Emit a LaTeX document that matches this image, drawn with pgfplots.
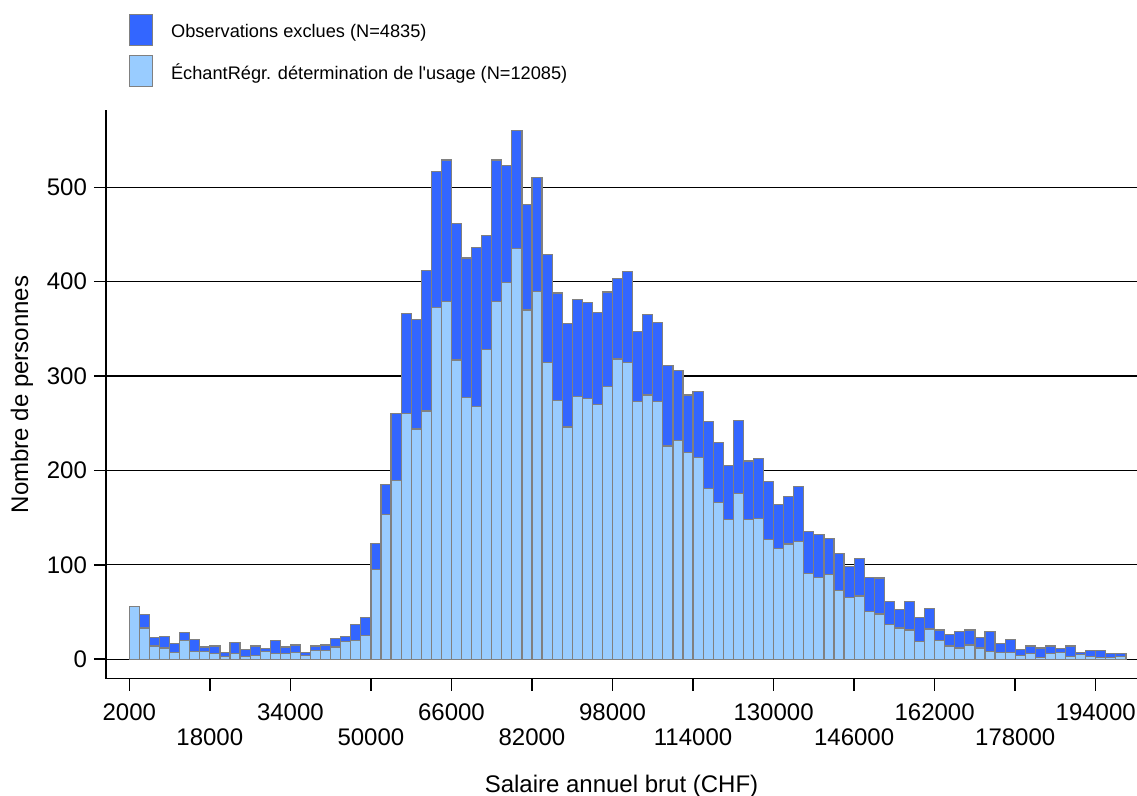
\documentclass[border=0pt]{standalone}
\usepackage{fontspec}
\setmainfont{Liberation Sans}
\usepackage{pgfplots}
\usepackage{pgfplotstable}
\pgfplotsset{compat=1.18}

\definecolor{excl}{HTML}{3366FF}
\definecolor{sample}{HTML}{99CCFF}
\definecolor{edge}{HTML}{808080}

% Salary bins of 2000 CHF (bin centres); L = regression sample, D = excluded
\pgfplotstableread{
x L D
3000 56 0
5000 33 14
7000 14 9
9000 12 12
11000 7 10
13000 20 8
15000 8 13
17000 8 5
19000 6 8
21000 3 4
23000 6 12
25000 3 7
27000 4 10
29000 8 3
31000 6 14
33000 6 7
35000 7 8
37000 4 3
39000 9 5
41000 9 6
43000 13 9
45000 19 5
47000 20 17
49000 25 19
51000 95 28
53000 153 32
55000 189 71
57000 260 106
59000 244 116
61000 263 149
63000 373 144
65000 379 150
67000 317 145
69000 277 148
71000 268 168
73000 328 121
75000 379 150
77000 399 124
79000 435 125
81000 370 112
83000 390 120
85000 314 115
87000 274 114
89000 246 110
91000 278 103
93000 276 102
95000 270 97
97000 289 100
99000 318 85
101000 314 97
103000 273 74
105000 280 85
107000 273 84
109000 226 85
111000 232 74
113000 219 61
115000 214 70
117000 181 71
119000 166 64
121000 148 57
123000 176 77
125000 148 62
127000 149 64
129000 127 61
131000 117 47
133000 122 50
135000 125 58
137000 91 44
139000 87 45
141000 90 38
143000 73 39
145000 65 33
147000 67 40
149000 51 36
151000 48 38
153000 37 24
155000 33 20
157000 31 30
159000 19 25
161000 32 22
163000 20 11
165000 14 12
167000 12 17
169000 15 16
171000 12 11
173000 8 21
175000 7 10
177000 7 14
179000 4 6
181000 6 8
183000 2 10
185000 6 8
187000 7 4
189000 3 11
191000 5 2
193000 3 6
195000 2 7
197000 2 4
199000 3 3
}\histdata

\begin{document}
\begin{tikzpicture}
\useasboundingbox (-53pt,-58.65pt) rectangle (515.5pt,339.35pt);
\begin{axis}[
  scale only axis,
  width=515.5pt, height=284.35pt,
  xmin=-2629, xmax=202199,
  ymin=-20.6, ymax=581.9,
  ybar stacked, bar width=2000,
  axis x line*=bottom, axis y line*=left,
  axis line style={-, line width=0.75pt, black},
  tick align=outside,
  major tick length=6pt,
  tick style={black, line width=0.75pt},
  ymajorgrids,
  major grid style={black, line width=0.6pt},
  ytick={0,100,200,300,400,500},
  scaled x ticks=false, scaled y ticks=false,
  xtick={2000,34000,66000,98000,130000,162000,194000},
  xticklabels={2000,34000,66000,98000,130000,162000,194000},
  extra x ticks={18000,50000,82000,114000,146000,178000},
  extra x tick labels={18000,50000,82000,114000,146000,178000},
  xticklabel style={yshift=-3pt},
  extra x tick style={tick label style={yshift=-12.5pt}},
  tick label style={font=\fontsize{12}{14}\selectfont},
  /pgf/number format/assume math mode=true,
  xlabel={Salaire annuel brut (CHF)},
  ylabel={Nombre de personnes},
  label style={font=\fontsize{12}{14}\selectfont},
  xlabel style={at={(axis description cs:0.5,-0.1885)}, anchor=center},
  ylabel style={at={(axis description cs:-0.0815,0.5)}, anchor=center},
  legend image code/.code={
    \draw[#1, line width=0.6pt] (0pt,-6.45pt) rectangle (11.5pt,9.05pt);
    \path (18.5pt,0pt);},
  legend style={draw=none, fill=none, at={(axis description cs:0,1)}, anchor=north west,
    xshift=11.35pt, yshift=48.35pt, inner sep=0pt, row sep=4.5pt,
    font=\fontsize{9.1}{11}\selectfont},
  legend cell align=left,
]
\addplot[fill=sample, draw=edge, line width=0.6pt, forget plot] table[x=x, y=L] {\histdata};
\addplot[fill=excl, draw=edge, line width=0.6pt, forget plot] table[x=x, y=D] {\histdata};
\addlegendimage{fill=excl, draw=edge}
\addlegendentry{Observations exclues (N=4835)}
\addlegendimage{fill=sample, draw=edge}
\addlegendentry{ÉchantRégr. détermination de l\textquotesingle usage (N=12085)}
\end{axis}
\end{tikzpicture}
\end{document}
